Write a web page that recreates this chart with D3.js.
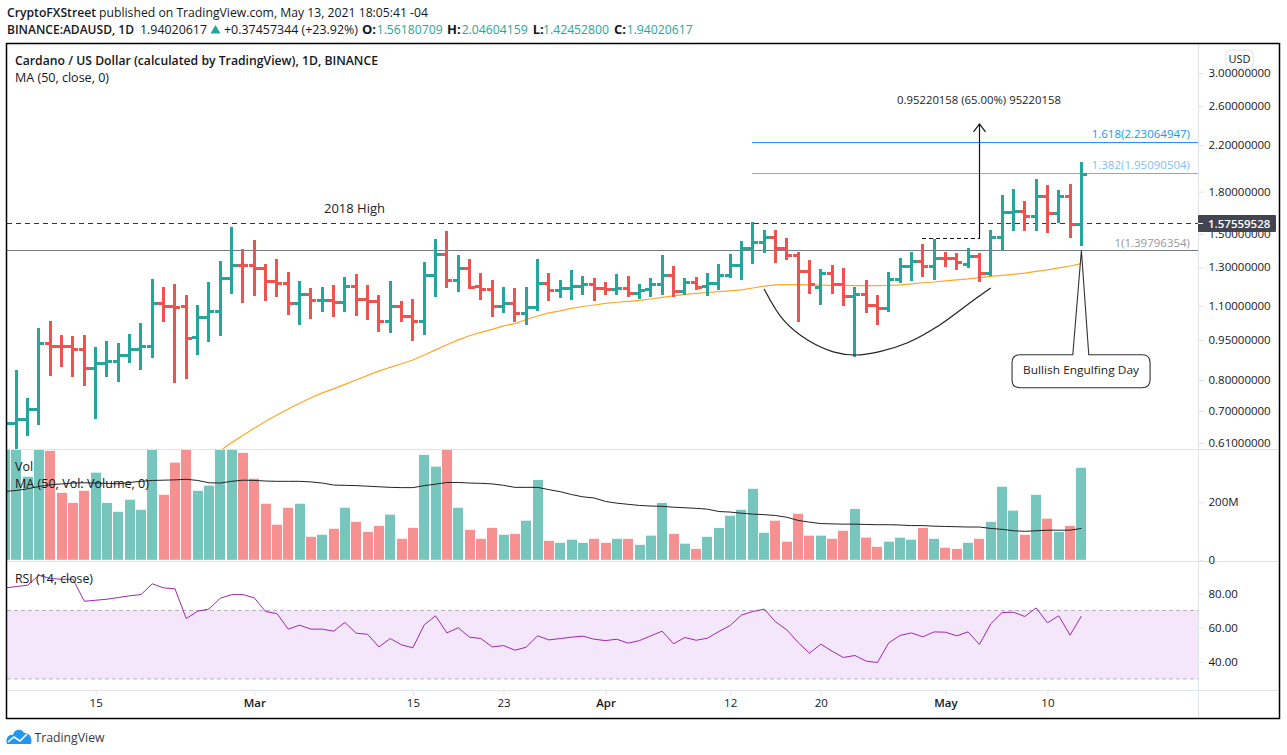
<!DOCTYPE html>
<html><head><meta charset="utf-8">
<script src="https://cdn.jsdelivr.net/npm/d3@7/dist/d3.min.js"></script>
<style>html,body{margin:0;padding:0;background:#fff}svg{display:block}text{font-family:"Open Sans","Noto Sans",sans-serif}</style>
</head><body><svg id="c" width="1287" height="755"></svg>
<script>
// ---------- values (index 0 = 7 Feb 2021, daily to 13 May 2021) ----------
const opens=[.650,.662,.676,.705,.938,.926,.926,.914,.842,.860,.867,.890,.914,.926,1.113,1.099,1.099,.962,1.048,1.076,1.240,1.310,1.310,1.294,1.224,1.214,1.110,1.157,1.128,1.128,1.118,1.198,1.133,1.123,1.030,1.099,1.052,1.030,1.254,1.374,1.229,1.294,1.198,1.182,1.099,1.113,1.067,1.094,1.214,1.178,1.187,1.198,1.208,1.187,1.182,1.187,1.162,1.182,1.208,1.254,1.173,1.219,1.198,1.214,1.256,1.310,1.410,1.447,1.478,1.410,1.368,1.276,1.191,1.266,1.207,1.146,1.157,1.103,1.088,1.235,1.305,1.333,1.305,1.351,1.351,1.316,1.364,1.266,1.478,1.647,1.655,1.618,1.762,1.640,1.762,1.5618];
const highs=[.700,.836,.740,1.002,1.032,.972,.968,.972,.923,.947,.939,.976,1.023,1.236,1.195,1.210,1.154,1.104,1.220,1.335,1.546,1.406,1.462,1.317,1.347,1.274,1.226,1.189,1.195,1.205,1.247,1.263,1.205,1.154,1.226,1.124,1.134,1.329,1.468,1.519,1.370,1.347,1.268,1.231,1.195,1.189,1.195,1.347,1.268,1.231,1.285,1.252,1.242,1.220,1.263,1.252,1.210,1.242,1.370,1.307,1.242,1.247,1.268,1.316,1.376,1.456,1.580,1.526,1.526,1.474,1.387,1.339,1.291,1.310,1.297,1.195,1.231,1.154,1.272,1.351,1.389,1.437,1.468,1.387,1.382,1.412,1.380,1.526,1.775,1.821,1.730,1.901,1.850,1.813,1.858,2.046];
const lows=[.620,.590,.629,.660,.814,.847,.811,.780,.676,.811,.793,.861,.836,.880,1.028,.790,.803,.891,.943,.968,1.159,1.116,1.149,1.124,1.144,1.059,1.014,1.041,1.073,1.050,1.073,1.054,1.036,.984,.980,1.028,.947,.972,1.144,1.189,1.169,1.184,1.129,1.050,1.068,1.028,1.014,1.077,1.124,1.139,1.129,1.154,1.124,1.154,1.154,1.144,1.134,1.144,1.154,1.144,1.154,1.179,1.149,1.179,1.242,1.231,1.316,1.382,1.324,1.341,1.028,1.159,1.104,1.159,1.099,.885,1.068,1.014,1.073,1.214,1.224,1.247,1.231,1.299,1.285,1.297,1.220,1.252,1.393,1.519,1.519,1.519,1.507,1.575,1.474,1.4245];
const closes=[.662,.676,.705,.938,.926,.925,.914,.842,.860,.867,.890,.914,.926,1.113,1.099,1.094,.958,1.048,1.076,1.240,1.310,1.309,1.294,1.224,1.214,1.110,1.157,1.128,1.129,1.118,1.198,1.133,1.123,1.030,1.099,1.052,1.030,1.254,1.374,1.229,1.294,1.191,1.182,1.099,1.113,1.067,1.094,1.214,1.178,1.187,1.198,1.208,1.187,1.182,1.187,1.162,1.178,1.208,1.254,1.173,1.219,1.191,1.214,1.256,1.310,1.410,1.447,1.478,1.410,1.368,1.276,1.207,1.266,1.207,1.146,1.157,1.103,1.088,1.235,1.305,1.333,1.305,1.351,1.350,1.328,1.364,1.266,1.478,1.647,1.655,1.618,1.762,1.640,1.762,1.565,1.9402];
const volumes=[400,430,289,410,379,233,198,240,303,198,167,209,174,400,226,338,395,240,258,395,390,372,282,195,122,181,195,80,87,108,181,132,97,118,157,73,111,365,324,400,181,104,73,111,87,90,136,278,66,59,70,59,73,59,73,73,52,84,198,90,56,38,80,111,153,174,247,94,136,63,160,84,84,73,101,177,77,45,63,77,70,111,73,42,38,59,73,132,254,171,87,226,143,97,118,320];
const ma50=[null,null,null,null,null,null,null,null,null,null,null,null,null,null,null,null,null,null,null,.590,.611,.630,.650,.670,.688,.706,.724,.741,.757,.770,.785,.800,.816,.831,.845,.858,.872,.891,.911,.931,.951,.968,.982,.995,1.010,1.020,1.038,1.054,1.068,1.077,1.089,1.098,1.105,1.113,1.118,1.122,1.127,1.134,1.142,1.149,1.157,1.162,1.166,1.170,1.174,1.179,1.189,1.199,1.205,1.206,1.206,1.205,1.204,1.202,1.202,1.201,1.201,1.201,1.202,1.205,1.210,1.216,1.220,1.226,1.231,1.236,1.243,1.250,1.255,1.261,1.268,1.277,1.285,1.296,1.307,1.320];
const volMa50=[238,241,247,255,261,264,267,268,267,266,264,269,273,276,277,278,280,276,268,267,273,277,276,274,273,273,273,271,267,260,259,258,256,254,252,251,251,258,263,269,269,267,266,264,259,252,252,252,244,237,227,219,215,203,197,193,189,187,186,183,181,179,176,168,166,162,159,157,154,148,137,131,126,125,124,124,123,122,122,121,119,119,117,116,115,114,114,109,106,101,99,101,103,103,103,109];
const rsi14=[83.2,84.0,84.8,90.6,88.7,88.3,88.3,75.4,76.0,76.6,77.6,78.6,79.3,85.6,83.2,82.7,65.3,69.6,70.8,77.2,79.3,79.3,77.4,69.4,68.2,59.1,61.4,59.1,59.1,57.9,63.0,56.7,56.1,48.7,53.6,49.9,48.2,61.6,66.9,56.9,59.9,54.4,53.6,48.7,49.5,46.8,48.5,55.2,52.8,53.6,54.4,55.0,53.2,52.4,53.2,50.9,52.4,55.2,57.9,50.5,54.2,52.6,53.8,57.7,61.2,67.3,69.4,70.8,63.4,58.7,51.3,45.0,50.3,46.2,42.5,43.7,40.4,39.6,51.1,55.4,56.9,54.6,57.5,57.3,55.2,57.5,50.1,62.2,68.8,69.0,66.5,71.5,62.8,66.9,55.6,66.7];
const priceTicks=[3,2.6,2.2,1.8,1.5,1.3,1.1,.95,.8,.7,.61];
const volTicks=[200,0];
const rsiTicks=[80,60,40];
const dateTickIdx=[8,22,36,44,53,64,72,83,92];
const dateTickLabels=["15","Mar","15","23","Apr","12","20","May","10"];
const lastPrice=1.57559528;
const fibLevels=[1.39796354,1.95090504,2.23064947];
const fibLabels=["1(1.39796354)","1.382(1.95090504)","1.618(2.23064947)"];
const fibColors=["#787b86","#64b5f6","#2196f3"];
const fibText=["#9598a1","#7fbff5","#2196f3"];
const fibStartIdx=[null,65.93,65.93];
const cupIdx=[67,68.7,70.8,73.1,75,77.2,79.6,82.5,85.5,87];
const cupPrice=[1.184,1.036,.951,.903,.891,.904,.938,1.014,1.129,1.189];
const measure={idx:86,from:1.468,to:2.409,dashFrom:80.93,dashPrice:1.474};
const callout={x0:88.88,x1:101.06,top:.892,bottom:.774,b0:94.24,b1:95.65,tipIdx:95,tipPrice:1.398};

// ---------- layout ----------
const L=7,R=1198,F="#131722";
const svg=d3.select("#c");
const x=d3.scaleLinear().domain([0,95]).range([5,1081.4]);
const px=i=>Math.round(x(i)-.5)+.5;
const y=d3.scaleLog().domain([3,.61]).range([73,443]);
const py=v=>Math.round(y(v)-.5)+.5;
const yV=d3.scaleLinear().domain([0,200]).range([559.8,502.3]);
const yR=d3.scaleLinear().domain([80,40]).range([593.4,661.8]);
const defs=svg.append("defs");
[["cp",44,449],["cv",450,561],["cr",562,690]].forEach(([id,a,b])=>defs.append("clipPath").attr("id",id).append("rect").attr("x",L).attr("y",a).attr("width",R-L).attr("height",b-a));
const green="#26a69a",red="#ef5350";
const idx=d3.range(closes.length);
const up=i=>closes[i]>=opens[i];

function label(g,t,xx,yy,o={}){
  const e=g.append("text").attr("x",xx).attr("y",yy).attr("fill",o.fill||F).attr("font-size",o.size||12).attr("font-weight",o.weight||400).attr("text-anchor",o.anchor||"start").text(t);
  if(o.len){e.attr("textLength",o.len).attr("lengthAdjust","spacingAndGlyphs");}
  return e;
}

// header
const h=svg.append("g");
label(h,"CryptoFXStreet",7,16.5,{size:13,weight:600,len:89});
label(h," published on TradingView.com, May 13, 2021 18:05:41 -04",99,16.5,{size:13,len:329});
label(h,"BINANCE:ADAUSD, 1D",7,33.5,{size:13,weight:600,len:127});
label(h,"1.94020617",140,33.5,{size:13,len:67});
h.append("path").attr("d",d3.line()([[210.5,33.5],[215.5,25],[220.5,33.5]])+"Z").attr("fill",green);
label(h,"+0.37457344 (+23.92%)",224,33.5,{size:13,len:134});
[["O:",362,"1.56180709",376.7],["H:",447,"2.04604159",461.7],["L:",532.7,"1.42452800",543],["C:",614,"1.94020617",626.7]].forEach(d=>{
  label(h,d[0],d[1],33.5,{size:13,weight:700});
  label(h,d[2],d[3],33.5,{size:13,fill:green,len:66});
});

// RSI pane background
const rp=svg.append("g").attr("clip-path","url(#cr)");
rp.append("rect").attr("x",L).attr("width",R-L).attr("y",yR(70)).attr("height",yR(30)-yR(70)).attr("fill","#f4e7fc");
[70,30].forEach(v=>rp.append("line").attr("x1",L).attr("x2",R).attr("y1",yR(v)).attr("y2",yR(v)).attr("stroke","#b9aec2").attr("stroke-width",1).attr("stroke-dasharray","4 3"));
rp.append("path").attr("d",d3.line().x(i=>x(i)).y(i=>yR(rsi14[i]))(idx)).attr("fill","none").attr("stroke","#9c27b0").attr("stroke-width",1);

// volume pane
const vp=svg.append("g").attr("clip-path","url(#cv)");
vp.selectAll("rect").data(idx).join("rect")
  .attr("x",i=>Math.round(x(i)-5)).attr("width",10)
  .attr("y",i=>yV(volumes[i])).attr("height",i=>yV(0)-yV(volumes[i]))
  .attr("fill",i=>up(i)?"#76c6be":"#f79191");
vp.append("path").attr("d",d3.line().x(i=>x(i)).y(i=>yV(volMa50[i]))(idx)).attr("fill","none").attr("stroke","#222").attr("stroke-width",1);

// price pane
const pp=svg.append("g").attr("clip-path","url(#cp)");
pp.append("path").attr("d",d3.line().defined(i=>ma50[i]!=null).x(i=>x(i)).y(i=>y(ma50[i]))(idx)).attr("fill","none").attr("stroke","#ffa726").attr("stroke-width",1.2);
// fib lines
fibLevels.forEach((v,k)=>{
  const x0=fibStartIdx[k]==null?L:x(fibStartIdx[k]);
  pp.append("line").attr("x1",x0).attr("x2",R).attr("y1",Math.round(y(v))+.5).attr("y2",Math.round(y(v))+.5).attr("stroke",fibColors[k]).attr("stroke-width",1);
});
// 2018-high dashed
pp.append("line").attr("x1",L).attr("x2",R).attr("y1",Math.round(y(lastPrice))+.5).attr("y2",Math.round(y(lastPrice))+.5).attr("stroke","#333").attr("stroke-width",1).attr("stroke-dasharray","5 4");
// OHLC bars
const bars=pp.selectAll("g.b").data(idx).join("g").attr("class","b").attr("stroke",i=>up(i)?green:red).attr("stroke-width",3).attr("shape-rendering","crispEdges");
bars.append("line").attr("x1",px).attr("x2",px).attr("y1",i=>y(highs[i])).attr("y2",i=>y(lows[i]));
bars.append("line").attr("x1",i=>px(i)-5.5).attr("x2",px).attr("y1",i=>py(opens[i])).attr("y2",i=>py(opens[i]));
bars.append("line").attr("x1",px).attr("x2",i=>px(i)+5.5).attr("y1",i=>py(closes[i])).attr("y2",i=>py(closes[i]));
// cup curve
pp.append("path").attr("d",d3.line().x(d=>x(d[0])).y(d=>y(d[1])).curve(d3.curveCatmullRom)(cupIdx.map((c,i)=>[c,cupPrice[i]]))).attr("fill","none").attr("stroke","#222").attr("stroke-width",1.2);
// measure arrow
const mx=Math.round(x(measure.idx))+.5;
pp.append("line").attr("x1",mx).attr("x2",mx).attr("y1",y(measure.from)).attr("y2",y(measure.to)).attr("stroke","#111").attr("stroke-width",1.2);
pp.append("path").attr("d",`M${mx-6},${y(measure.to)+8}L${mx},${y(measure.to)}L${mx+6},${y(measure.to)+8}`).attr("fill","none").attr("stroke","#111").attr("stroke-width",1.2);
pp.append("line").attr("x1",x(measure.dashFrom)).attr("x2",mx).attr("y1",Math.round(y(measure.dashPrice))+.5).attr("y2",Math.round(y(measure.dashPrice))+.5).attr("stroke","#111").attr("stroke-width",1.2).attr("stroke-dasharray","4 3");
// callout
const cx0=x(callout.x0),cx1=x(callout.x1),cy0=y(callout.top),cy1=y(callout.bottom),r=8;
pp.append("path").attr("d",`M${cx0+r},${cy0}L${x(callout.b0)},${cy0}L${x(callout.tipIdx)},${y(callout.tipPrice)}L${x(callout.b1)},${cy0}L${cx1-r},${cy0}Q${cx1},${cy0} ${cx1},${cy0+r}L${cx1},${cy1-r}Q${cx1},${cy1} ${cx1-r},${cy1}L${cx0+r},${cy1}Q${cx0},${cy1} ${cx0},${cy1-r}L${cx0},${cy0+r}Q${cx0},${cy0} ${cx0+r},${cy0}Z`).attr("fill","#fff").attr("stroke","#333").attr("stroke-width",1.1);
const an=svg.append("g");
label(an,"Bullish Engulfing Day",1081,374,{size:11.5,anchor:"middle",len:116,fill:"#222"});
label(an,"2018 High",324,212.5,{size:12.5,fill:"#222",len:61});
label(an,"0.95220158 (65.00%) 95220158",897,104,{size:11.5,fill:"#222",len:164});
fibLevels.forEach((v,k)=>label(an,fibLabels[k],1190,y(v)-3.5,{size:11.5,anchor:"end",fill:fibText[k]}));
// legends
label(an,"Cardano / US Dollar (calculated by TradingView), 1D, BINANCE",15,64.5,{size:12.5,weight:600,len:363});
label(an,"MA (50, close, 0)",15,82,{size:12.5,len:94});
label(an,"Vol",15,471,{size:12.5});
label(an,"MA (50, Vol: Volume, 0)",15,488,{size:12.5,len:134});
label(an,"RSI (14, close)",15,583,{size:12.5,len:78});

// pane frame lines
const sep="#e0e3eb";
[449.5,561.5,690.5].forEach(v=>svg.append("line").attr("x1",L).attr("x2",1279).attr("y1",v).attr("y2",v).attr("stroke",sep));
svg.append("line").attr("x1",R+.5).attr("x2",R+.5).attr("y1",44).attr("y2",718).attr("stroke",sep);

// axes
function styleAxis(g){g.select(".domain").remove();g.selectAll("line").attr("stroke",sep);g.selectAll("text").attr("fill",F).attr("font-size",11.5);}
svg.append("g").attr("transform",`translate(${R+.5},0)`).call(d3.axisRight(y).tickValues(priceTicks).tickSize(5).tickPadding(5).tickFormat(d3.format(".8f"))).call(styleAxis);
svg.append("g").attr("transform",`translate(${R+.5},0)`).call(d3.axisRight(yV).tickValues(volTicks).tickSize(5).tickPadding(5).tickFormat(v=>v?v+"M":"0")).call(styleAxis);
svg.append("g").attr("transform",`translate(${R+.5},0)`).call(d3.axisRight(yR).tickValues(rsiTicks).tickSize(5).tickPadding(5).tickFormat(d3.format(".2f"))).call(styleAxis);
svg.append("g").attr("transform","translate(0,690.5)").call(d3.axisBottom(x).tickValues(dateTickIdx).tickSize(5).tickPadding(3).tickFormat((d,i)=>dateTickLabels[i])).call(styleAxis)
  .selectAll("text").attr("font-weight",(d,i)=>/[A-Z]/.test(dateTickLabels[i])?600:400);

// last price tag
const tag=svg.append("g");
const ty=Math.round(y(lastPrice))+.5;
tag.append("rect").attr("x",R).attr("y",ty-8.5).attr("width",78).attr("height",17).attr("rx",1).attr("fill","#42454f");
tag.append("line").attr("x1",R).attr("x2",R+5).attr("y1",ty).attr("y2",ty).attr("stroke","#fff");
label(tag,d3.format(".8f")(lastPrice),1208,ty+4,{size:11.5,weight:600,fill:"#fff"});
// USD button
svg.append("rect").attr("x",1226).attr("y",50).attr("width",27).attr("height",18).attr("rx",4).attr("fill","#fff").attr("stroke","#e0e3eb");
label(svg,"USD",1239.5,63,{size:11,anchor:"middle"});

// outer frame
svg.append("rect").attr("x",6.5).attr("y",43.5).attr("width",1273).attr("height",675).attr("fill","none").attr("stroke","#000").attr("stroke-width",1.5);

// TradingView logo
const lg=svg.append("g");
lg.append("path").attr("d","M7,744C5,738 9,734 13,735C14,729 22,728 24,733C29,732 33,738 31,744Z").attr("fill","#2196f3");
lg.append("path").attr("d","M8,742L14,737L20,741L27,734").attr("fill","none").attr("stroke","#fff").attr("stroke-width",1.6);
label(lg,"TradingView",34.5,741.5,{size:13,fill:"#363a45",len:70});
</script></body></html>
